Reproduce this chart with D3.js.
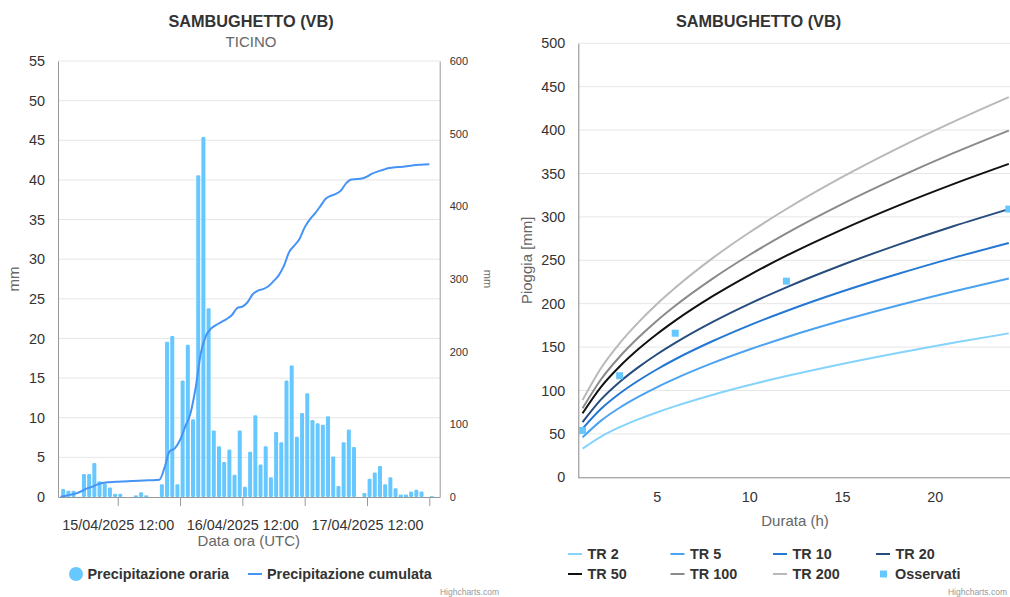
<!DOCTYPE html>
<html>
<head>
<meta charset="utf-8">
<script src="https://cdn.jsdelivr.net/npm/d3@7"></script>
<style>
  body { margin: 0; background: #fff; }
  svg text { font-family: "Liberation Sans", Arial, sans-serif; }
</style>
</head>
<body>
<svg id="chart" width="1010" height="597"></svg>
<script>
// hourly rain (mm), first hour starts 15/04/2025 01:00 UTC
const oraria = [
  1.0, 0.8, 0.8, 0,
  2.9, 2.9, 4.3, 2.0, 1.7, 1.2, 0.4, 0.4,
  0, 0, 0.2, 0.6, 0.2, 0, 0, 1.6,
  19.6, 20.3, 1.6, 14.7,
  19.2, 9.8, 40.6, 45.4, 23.8,
  8.4, 6.4, 4.4, 6.0, 2.8, 8.4, 1.3, 5.7, 10.3, 4.1, 6.4, 2.5,
  8.2, 6.9, 14.7, 16.6, 7.6, 10.6, 13.1, 9.7,
  9.3, 9.1, 10.2, 5.1, 1.4, 6.9, 8.5, 6.3,
  0, 0.5, 2.3, 3.1, 3.9, 1.6, 2.5, 1.1, 0.3, 0.3, 0.7, 0.9, 0.7, 0, 0.1
];
const cumulata = [
  0.5, 1.7, 3.3, 5, 8, 11.5, 14, 17, 19.3, 20.2,
  20.8, 21.1, 21.4, 21.7, 22, 22.3, 22.6, 22.9, 23.2, 23.6,
  40, 63, 67, 78.4, 97, 115, 150, 198, 222, 232,
  237, 241, 245, 250.5, 260, 262, 268, 279, 284, 286,
  290, 297, 305, 318, 337, 346, 355, 371, 382, 390.4,
  400, 410, 414.5, 417, 422, 432, 437, 437.5, 438.2, 441,
  445, 447.8, 450, 452.3, 453.3, 454, 454.5, 455.5, 456.5, 457.2,
  457.6, 457.8
];
const start = Date.UTC(2025, 3, 15, 1, 0);
const hour = 3600 * 1000;

// curve durations (h) and TR values (mm)
const durate = [1, 2, 3, 4, 5, 6, 8, 10, 12, 15, 18, 21, 24];
const tr2   = [33, 46.9, 57.7, 66.7, 74.7, 82.0, 94.9, 106.3, 116.6, 130.6, 143.3, 155.0, 165.8];
const tr5   = [46, 65.3, 80.1, 92.6, 103.7, 113.7, 131.5, 147.2, 161.4, 180.6, 198.0, 214.1, 229.0];
const tr10  = [56, 78.9, 96.5, 111.2, 124.2, 136.0, 156.7, 175.1, 191.6, 214.0, 234.2, 252.8, 270.0];
const tr20  = [63.5, 89.7, 109.8, 126.6, 141.5, 154.9, 178.8, 199.9, 218.9, 244.6, 267.8, 289.2, 309.0];
const tr50  = [73.7, 104.2, 127.6, 147.4, 164.8, 180.5, 208.4, 233.0, 255.3, 285.4, 312.7, 337.8, 361.1];
const tr100 = [79.5, 113.0, 138.9, 160.7, 180.1, 197.6, 228.6, 256.1, 281.0, 314.7, 345.2, 373.4, 399.5];
const tr200 = [89, 126.0, 154.4, 178.2, 199.3, 218.3, 252.2, 282.0, 309.1, 345.8, 379.0, 409.5, 438.0];
const trNames = ['TR 2', 'TR 5', 'TR 10', 'TR 20', 'TR 50', 'TR 100', 'TR 200'];
const trColors = ['#86d3fb', '#4aa2f0', '#2478d4', '#264d7d', '#111111', '#8a8a8a', '#b9b9b9'];
const osservatiDurate = [1, 3, 6, 12, 24];
const osservati = [54, 117, 166, 226, 309];

const blue = '#66c8ff';
const lineBlue = '#4594f5';
const title = 'SAMBUGHETTO (VB)';

const svg = d3.select('#chart');

// ---------- left chart ----------
const L = {left: 58, right: 439.7, top: 61, bottom: 497};

const x = d3.scaleUtc()
            .domain([Date.UTC(2025, 3, 15, 0, 30), Date.UTC(2025, 3, 18, 2, 0)])
            .range([L.left, L.right]);
const yL = d3.scaleLinear().domain([0, 55]).range([L.bottom, L.top]);
const yR = d3.scaleLinear().domain([0, 600]).range([L.bottom, L.top]);

svg.append('text').attr('x', 251).attr('y', 26.5).attr('text-anchor', 'middle')
   .attr('font-size', 16.3).attr('font-weight', 'bold').attr('fill', '#333').text(title);
svg.append('text').attr('x', 251).attr('y', 46.5).attr('text-anchor', 'middle')
   .attr('font-size', 15).attr('fill', '#666').text('TICINO');

svg.append('g').selectAll('line')
   .data(d3.range(5, 56, 5))
   .enter().append('line')
   .attr('x1', L.left).attr('x2', L.right)
   .attr('y1', d => yL(d)).attr('y2', d => yL(d))
   .attr('stroke', '#e6e6e6');

const ticks12 = d3.range(0, 6).map(i => new Date(Date.UTC(2025, 3, 15, 12) + i * 12 * hour));
const fmt = d3.utcFormat('%d/%m/%Y %H:%M');

const xAxis = svg.append('g')
   .attr('transform', `translate(0,${L.bottom})`)
   .call(d3.axisBottom(x).tickValues(ticks12).tickSize(9).tickSizeOuter(0)
           .tickFormat(d => d.getUTCHours() === 12 ? fmt(d) : ''));
xAxis.select('.domain').attr('stroke', '#999');
xAxis.selectAll('.tick line').attr('stroke', '#999');
xAxis.selectAll('.tick text').attr('font-size', 14.4).attr('fill', '#333').attr('dy', '1.45em');

const yAxisL = svg.append('g')
   .attr('transform', `translate(${L.left},0)`)
   .call(d3.axisLeft(yL).tickValues(d3.range(0, 56, 5)).tickSize(0).tickPadding(13));
yAxisL.select('.domain').attr('stroke', '#999');
yAxisL.selectAll('.tick text').attr('font-size', 14.4).attr('fill', '#333');

const yAxisR = svg.append('g')
   .attr('transform', `translate(${L.right},0)`)
   .call(d3.axisRight(yR).tickValues(d3.range(0, 601, 100)).tickSize(0).tickPadding(10));
yAxisR.select('.domain').attr('stroke', '#999');
yAxisR.selectAll('.tick text').attr('font-size', 11).attr('fill', '#333');

svg.append('text').attr('transform', `translate(19,${(L.top + L.bottom) / 2}) rotate(-90)`)
   .attr('text-anchor', 'middle').attr('font-size', 15).attr('fill', '#666').text('mm');
svg.append('text').attr('transform', `translate(484,${(L.top + L.bottom) / 2}) rotate(90)`)
   .attr('text-anchor', 'middle').attr('font-size', 11).attr('fill', '#666').text('mm');
svg.append('text').attr('x', (L.left + L.right) / 2).attr('y', 546).attr('text-anchor', 'middle')
   .attr('font-size', 15).attr('fill', '#666').text('Data ora (UTC)');

svg.append('g').selectAll('rect')
   .data(oraria)
   .enter().append('rect')
   .attr('x', (d, i) => x(start + i * hour + hour / 2) - 2)
   .attr('width', 4)
   .attr('y', d => yL(d))
   .attr('height', d => yL(0) - yL(d))
   .attr('rx', d => d > 0.3 ? 1.2 : 0)
   .attr('fill', blue);

svg.append('path')
   .datum(cumulata)
   .attr('fill', 'none')
   .attr('stroke', lineBlue)
   .attr('stroke-width', 2)
   .attr('d', d3.line()
                .x((d, i) => x(start + i * hour))
                .y(d => yR(d))
                .curve(d3.curveMonotoneX));

// left legend
svg.append('circle').attr('cx', 76).attr('cy', 574).attr('r', 7).attr('fill', blue);
svg.append('text').attr('x', 87.5).attr('y', 579).attr('font-size', 14.4).attr('font-weight', 'bold')
   .attr('fill', '#333').text('Precipitazione oraria');
svg.append('line').attr('x1', 248).attr('x2', 262).attr('y1', 574).attr('y2', 574)
   .attr('stroke', lineBlue).attr('stroke-width', 2);
svg.append('text').attr('x', 267).attr('y', 579).attr('font-size', 14.4).attr('font-weight', 'bold')
   .attr('fill', '#333').text('Precipitazione cumulata');
svg.append('text').attr('x', 499).attr('y', 595).attr('text-anchor', 'end')
   .attr('font-size', 8.5).attr('fill', '#999').text('Highcharts.com');

// ---------- right chart ----------
const R = {left: 578.3, right: 1008.8, top: 43.3, bottom: 477.3};
const xD = d3.scaleLinear().domain([0.77, 24]).range([R.left, R.right]);
const yD = d3.scaleLinear().domain([0, 500]).range([R.bottom, R.top]);

svg.append('text').attr('x', 758.5).attr('y', 26.5).attr('text-anchor', 'middle')
   .attr('font-size', 16.3).attr('font-weight', 'bold').attr('fill', '#333').text(title);

svg.append('g').selectAll('line')
   .data(d3.range(50, 501, 50))
   .enter().append('line')
   .attr('x1', R.left).attr('x2', 1010)
   .attr('y1', d => yD(d)).attr('y2', d => yD(d))
   .attr('stroke', '#e6e6e6');

const yAxisD = svg.append('g')
   .attr('transform', `translate(${R.left},0)`)
   .call(d3.axisLeft(yD).tickValues(d3.range(0, 501, 50)).tickSize(0).tickPadding(13));
yAxisD.select('.domain').attr('stroke', '#888');
yAxisD.selectAll('.tick text').attr('font-size', 14.4).attr('fill', '#333');

const xAxisD = svg.append('g')
   .attr('transform', `translate(0,${R.bottom})`)
   .call(d3.axisBottom(xD).tickValues([5, 10, 15, 20]).tickSize(0).tickPadding(14).tickSizeOuter(0));
xAxisD.select('.domain').attr('stroke', '#888').attr('d', `M${R.left},0.5H1010`);
xAxisD.selectAll('.tick text').attr('font-size', 14.4).attr('fill', '#333');

svg.append('text').attr('transform', `translate(532,${(R.top + R.bottom) / 2}) rotate(-90)`)
   .attr('text-anchor', 'middle').attr('font-size', 15).attr('fill', '#666').text('Pioggia [mm]');
svg.append('text').attr('x', 795).attr('y', 525.5).attr('text-anchor', 'middle')
   .attr('font-size', 15).attr('fill', '#666').text('Durata (h)');

const trSeries = [tr2, tr5, tr10, tr20, tr50, tr100, tr200];
const durLine = d3.line()
                  .x((d, i) => xD(durate[i]))
                  .y(d => yD(d))
                  .curve(d3.curveMonotoneX);

svg.append('g').selectAll('path')
   .data(trSeries)
   .enter().append('path')
   .attr('fill', 'none')
   .attr('stroke', (d, i) => trColors[i])
   .attr('stroke-width', 2)
   .attr('d', durLine);

svg.append('g').selectAll('rect')
   .data(osservati)
   .enter().append('rect')
   .attr('x', (d, i) => xD(osservatiDurate[i]) - 3.5)
   .attr('y', d => yD(d) - 3.5)
   .attr('width', 7).attr('height', 7)
   .attr('fill', blue);

// right legend
const legendItems = trNames.concat(['Osservati']);
const legendX = [568, 670.5, 773, 876];
const legend = svg.append('g').selectAll('g')
   .data(legendItems)
   .enter().append('g')
   .attr('transform', (d, i) => `translate(${legendX[i % 4]},${i < 4 ? 554 : 574})`);

legend.filter((d, i) => i < 7).append('line')
   .attr('x1', 0).attr('x2', 14)
   .attr('stroke', (d, i) => trColors[i]).attr('stroke-width', 2);
legend.filter((d, i) => i === 7).append('rect')
   .attr('x', 4).attr('y', -3.5).attr('width', 7).attr('height', 7).attr('fill', blue);
legend.append('text')
   .attr('x', (d, i) => i === 7 ? 19 : 19.5).attr('y', 5)
   .attr('font-size', 14.4).attr('font-weight', 'bold').attr('fill', '#333')
   .text(d => d);

svg.append('text').attr('x', 1007).attr('y', 595).attr('text-anchor', 'end')
   .attr('font-size', 8.5).attr('fill', '#999').text('Highcharts.com');
</script>
</body>
</html>
